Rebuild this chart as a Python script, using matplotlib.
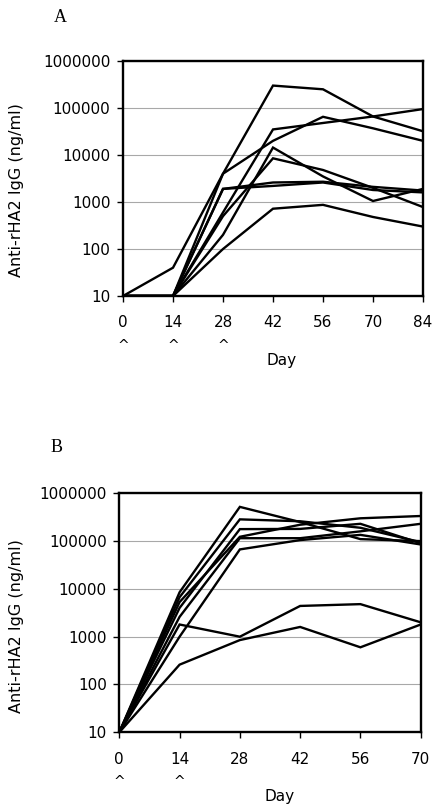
import matplotlib
matplotlib.use("Agg")
import matplotlib.pyplot as plt
import matplotlib.transforms as mtransforms
from matplotlib.ticker import FixedLocator, NullLocator

# ---- data ----
days_a = [0, 14, 28, 42, 56, 70, 84]
series_a = [
    [10, 40, 4000, 300000, 250000, 66000, 32000],
    [10, 10, 4000, 20000, 65000, 37000, 20000],
    [10, 10, 600, 35000, 48000, 66000, 95000],
    [10, 10, 200, 14400, 3500, 1050, 1900],
    [10, 10, 500, 8500, 4800, 2000, 780],
    [10, 10, 1900, 2600, 2700, 2100, 1750],
    [10, 10, 1900, 2200, 2600, 1800, 1600],
    [10, 10, 100, 720, 870, 480, 300],
]
boosts_a = [0, 14, 28]

days_b = [0, 14, 28, 42, 56, 70]
series_b = [
    [10, 8500, 520000, 250000, 110000, 100000],
    [10, 6700, 285000, 260000, 190000, 95000],
    [10, 5300, 123000, 220000, 300000, 335000],
    [10, 4000, 178000, 180000, 230000, 90000],
    [10, 2600, 115000, 115000, 160000, 230000],
    [10, 1000, 67000, 105000, 135000, 85000],
    [10, 1800, 1000, 4400, 4800, 2000],
    [10, 260, 850, 1600, 600, 1800],
]
boosts_b = [0, 14]

yticks = [10, 100, 1000, 10000, 100000, 1000000]
ytick_labels = ["10", "100", "1000", "10000", "100000", "1000000"]
ylabel = "Anti-rHA2 IgG (ng/ml)"
xlabel = "Day"

W, H = 440, 811
fig = plt.figure(figsize=(W / 100, H / 100), dpi=100)

sans = ["DejaVu Sans"]
serif = ["Liberation Serif", "DejaVu Serif"]


def make_panel(rect, days, series, boosts, letter, letter_xy, ylab_y, day_x):
    ax = fig.add_axes(rect)
    for s in series:
        ax.plot(days, s, color="black", lw=1.7, solid_joinstyle="miter", zorder=3)
    ax.set_yscale("log")
    ax.set_ylim(10, 1000000)
    ax.set_xlim(days[0], days[-1])
    ax.yaxis.set_major_locator(FixedLocator(yticks))
    ax.yaxis.set_minor_locator(NullLocator())
    ax.set_yticklabels(ytick_labels, fontfamily=sans, fontsize=11)
    ax.set_xticks(days)
    ax.set_xticklabels([str(d) for d in days], fontfamily=sans, fontsize=11)
    ax.tick_params(axis="y", direction="out", length=4, width=1, pad=5)
    ax.tick_params(axis="x", direction="out", length=4, width=1, pad=10)
    ax.grid(axis="y", color="#a8a8a8", lw=0.8)
    ax.set_axisbelow(True)
    for sp in ax.spines.values():
        sp.set_linewidth(1.7)
        sp.set_color("black")
    trans = mtransforms.blended_transform_factory(ax.transData, fig.transFigure)
    bottom_px = rect[1] * H
    for d in boosts:
        ax.text(d, (bottom_px - 50) / H, "^", transform=trans, ha="center",
                va="center", fontfamily=sans, fontsize=10)
    fig.text(day_x / W, (bottom_px - 64) / H, xlabel,
             ha="center", va="center", fontfamily=sans, fontsize=11)
    fig.text(17 / W, 1 - ylab_y / H, ylabel, rotation=90, ha="center",
             va="center", fontfamily=sans, fontsize=11.5)
    fig.text(letter_xy[0] / W, 1 - letter_xy[1] / H, letter, ha="center",
             va="center", fontfamily=serif, fontsize=13)
    return ax


rect_a = [123 / W, 1 - 296 / H, 300 / W, 235 / H]
rect_b = [119.3 / W, 1 - 732.3 / H, 301.4 / W, 239 / H]
make_panel(rect_a, days_a, series_a, boosts_a, "A", (60, 17), 190, 282)
make_panel(rect_b, days_b, series_b, boosts_b, "B", (57, 448), 626, 280)

fig.savefig("out.png", dpi=100)
